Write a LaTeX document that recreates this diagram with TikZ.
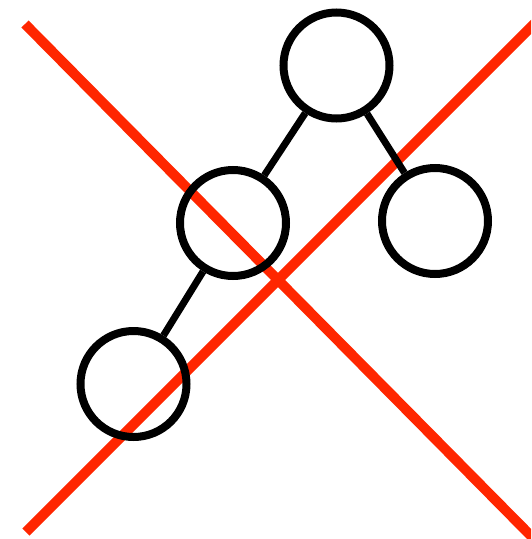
\documentclass[tikz,border=0pt]{standalone}
\definecolor{crossred}{HTML}{FF2600}
\begin{document}
\begin{tikzpicture}[
  x=1pt, y=-1pt,
  treenode/.style={draw, circle, line width=8pt, minimum size=106pt, inner sep=0pt},
  branch/.style={line width=7pt},
  cross/.style={crossred, line width=10pt}
]
\useasboundingbox (0,0) rectangle (531,539);
\clip (0,0) rectangle (531,539);
% red cross behind the tree
\draw[cross] (25,24) -- (540,545);
\draw[cross] (26,532) -- (540,18);
% tree
\node[treenode] (root) at (336.5,65.5) {};
\node[treenode] (left) at (233,223) {};
\node[treenode] (right) at (435,221) {};
\node[treenode] (leaf) at (133.5,384) {};
\draw[branch] (root) -- (left);
\draw[branch] (root) -- (right);
\draw[branch] (left) -- (leaf);
\end{tikzpicture}
\end{document}
